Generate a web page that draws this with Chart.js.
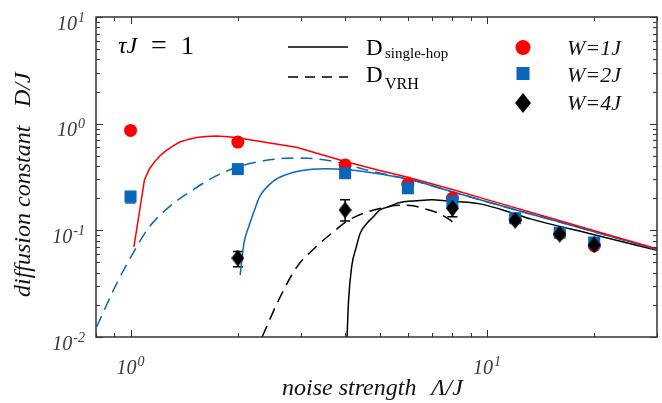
<!DOCTYPE html>
<html>
<head>
<meta charset="utf-8">
<script src="https://cdn.jsdelivr.net/npm/chart.js@4/dist/chart.umd.min.js"></script>
<style>
  html, body { margin: 0; padding: 0; background: #fff; }
  #wrap { width: 662px; height: 403px; }
</style>
</head>
<body>
<div id="wrap"><canvas id="graficoDifusao" width="662" height="403"></canvas></div>
<script>
// pontos simulados (noise strength Λ/J)
const noiseW12 = [1, 2, 4, 6, 8, 12, 16, 20];
const diffW1 = [0.865, 0.672, 0.41, 0.272, 0.2, 0.127, 0.093, 0.072];
const diffW2 = [0.207, 0.375, 0.343, 0.248, 0.186, 0.13, 0.095, 0.077];
const errLowW2 = [0.18, null, null, null, null, null, null, null];
const errHighW2 = [0.231, null, null, null, null, null, null, null];
const noiseW4 = [2, 4, 8, 12, 16, 20];
const diffW4 = [0.055, 0.155, 0.161, 0.124, 0.092, 0.073];
const errLowW4 = [0.0455, 0.122, 0.134, null, null, null];
const errHighW4 = [0.0633, 0.193, 0.19, null, null, null];

// curvas teóricas
const hopW1x = [1.022, 1.094, 1.13, 1.17, 1.21, 1.25, 1.31, 1.374, 1.45, 1.53, 1.63, 1.74, 1.88, 2.02, 2.2, 2.46, 2.92, 4, 5, 6, 8, 10, 15, 20, 30];
const hopW1y = [0.07, 0.297, 0.378, 0.442, 0.5, 0.549, 0.613, 0.673, 0.712, 0.743, 0.758, 0.766, 0.755, 0.733, 0.7, 0.659, 0.6, 0.441, 0.364, 0.314, 0.241, 0.194, 0.131, 0.099, 0.067];
const hopW2x = [2.03, 2.08, 2.15, 2.22, 2.3, 2.51, 2.75, 3.0, 3.5, 4.0, 4.5, 5.5, 6.23, 7.39, 10, 15, 20, 30];
const hopW2y = [0.038, 0.075, 0.11, 0.15, 0.205, 0.287, 0.335, 0.362, 0.377, 0.372, 0.356, 0.32, 0.293, 0.248, 0.185, 0.127, 0.097, 0.066];
const vrhW2x = [0.803, 0.914, 1.028, 1.121, 1.303, 1.498, 1.722, 2.02, 2.456, 2.92, 3.26, 3.87, 4.5, 5.5, 6.23, 7.39, 10, 15, 20, 30];
const vrhW2y = [0.0124, 0.0317, 0.0653, 0.1045, 0.173, 0.24, 0.319, 0.397, 0.458, 0.476, 0.47, 0.43, 0.375, 0.322, 0.293, 0.248, 0.185, 0.127, 0.097, 0.066];
const hopW4x = [4.05, 4.09, 4.17, 4.3, 4.41, 4.6, 4.8, 5.0, 5.35, 5.6, 6.47, 7.0, 7.7, 9.57, 11.8, 13.25, 20, 30];
const hopW4y = [0.01, 0.022, 0.045, 0.07, 0.094, 0.116, 0.134, 0.155, 0.168, 0.18, 0.19, 0.193, 0.189, 0.177, 0.145, 0.128, 0.091, 0.065];
const vrhW4x = [2.34, 2.6, 2.93, 3.3, 3.71, 4.05, 4.6, 5.25, 5.6, 6.2, 6.62, 7.3, 7.87, 8.0];
const vrhW4y = [0.01, 0.022, 0.0455, 0.069, 0.097, 0.122, 0.148, 0.166, 0.172, 0.17, 0.161, 0.145, 0.125, 0.12];

const xTicks = [1, 10];
const yTicks = [0.01, 0.1, 1, 10];

const VERMELHO = '#ff0000';
const AZUL = '#0a66bb';
const PRETO = '#000000';
const SERIF = '"Liberation Serif", "DejaVu Serif", serif';

function pares(xs, ys) {
    return xs.map(function (x, i) { return { x: x, y: ys[i] }; });
}

function losango(w, h, cor) {
    const c = document.createElement('canvas');
    c.width = w; c.height = h;
    const g = c.getContext('2d');
    g.fillStyle = cor;
    g.beginPath();
    g.moveTo(w / 2, 0); g.lineTo(w, h / 2); g.lineTo(w / 2, h); g.lineTo(0, h / 2);
    g.closePath();
    g.fill();
    return c;
}

function curva(xs, ys, cor, tracejado, reta) {
    const ds = {
        data: pares(xs, ys),
        showLine: true,
        borderColor: cor,
        borderWidth: 1.5,
        borderDash: tracejado ? [12, 7] : [],
        pointRadius: 0,
        order: 10
    };
    if (reta) ds.tension = 0;
    else ds.cubicInterpolationMode = 'monotone';
    return ds;
}

// escreve 10^n
function potencia(ctx, exp, x, y, alinh) {
    ctx.font = 'italic 20px ' + SERIF;
    const wb = ctx.measureText('10').width;
    ctx.font = 'italic 14px ' + SERIF;
    const we = ctx.measureText(exp).width;
    let x0 = alinh === 'right' ? x - wb - we - 1 : x - (wb + we + 1) / 2;
    ctx.textAlign = 'left';
    ctx.textBaseline = 'alphabetic';
    ctx.font = 'italic 20px ' + SERIF;
    ctx.fillText('10', x0, y);
    ctx.font = 'italic 14px ' + SERIF;
    ctx.fillText(exp, x0 + wb + 1, y - 8);
}

function menores(min, max) {
    const v = [];
    for (let d = -3; d <= 2; d++) {
        for (let k = 2; k <= 9; k++) {
            const t = k * Math.pow(10, d);
            if (t >= min * 0.999 && t <= max * 1.001) v.push(t);
        }
    }
    return v;
}

const moldura = {
    id: 'moldura',
    beforeDatasetsDraw(chart) {
        const ctx = chart.ctx, sx = chart.scales.x, sy = chart.scales.y;
        const barras = [
            { xs: noiseW12, lo: errLowW2, hi: errHighW2, cor: AZUL },
            { xs: noiseW4, lo: errLowW4, hi: errHighW4, cor: PRETO }
        ];
        ctx.save();
        ctx.lineWidth = 1.5;
        barras.forEach(function (b) {
            ctx.strokeStyle = b.cor;
            b.xs.forEach(function (x, i) {
                if (b.lo[i] == null) return;
                const px = sx.getPixelForValue(x);
                const y1 = sy.getPixelForValue(b.lo[i]);
                const y2 = sy.getPixelForValue(b.hi[i]);
                ctx.beginPath();
                ctx.moveTo(px, y1); ctx.lineTo(px, y2);
                ctx.moveTo(px - 5, y1); ctx.lineTo(px + 5, y1);
                ctx.moveTo(px - 5, y2); ctx.lineTo(px + 5, y2);
                ctx.stroke();
            });
        });
        ctx.restore();
    },
    afterDatasetsDraw(chart) {
        const ctx = chart.ctx, a = chart.chartArea;
        const sx = chart.scales.x, sy = chart.scales.y;
        ctx.save();
        // moldura e ticks para dentro
        ctx.strokeStyle = '#333';
        ctx.lineWidth = 1.5;
        ctx.strokeRect(a.left, a.top, a.right - a.left, a.bottom - a.top);
        ctx.lineWidth = 1;
        ctx.beginPath();
        xTicks.concat(menores(sx.min, sx.max)).forEach(function (t) {
            const p = Math.round(sx.getPixelForValue(t)) + 0.5;
            const L = xTicks.indexOf(t) >= 0 ? 7 : 4;
            ctx.moveTo(p, a.bottom); ctx.lineTo(p, a.bottom - L);
            ctx.moveTo(p, a.top); ctx.lineTo(p, a.top + L);
        });
        yTicks.concat(menores(sy.min, sy.max)).forEach(function (t) {
            const p = Math.round(sy.getPixelForValue(t)) + 0.5;
            const L = yTicks.indexOf(t) >= 0 ? 7 : 4;
            ctx.moveTo(a.left, p); ctx.lineTo(a.left + L, p);
            ctx.moveTo(a.right, p); ctx.lineTo(a.right - L, p);
        });
        ctx.stroke();

        // rótulos dos eixos
        ctx.fillStyle = '#3a3a3a';
        xTicks.forEach(function (t) {
            potencia(ctx, String(Math.round(Math.log10(t))), sx.getPixelForValue(t), 374, 'center');
        });
        yTicks.forEach(function (t) {
            potencia(ctx, String(Math.round(Math.log10(t))), 85, sy.getPixelForValue(t) + 12.5, 'right');
        });

        ctx.fillStyle = '#111';
        ctx.font = 'italic 24px ' + SERIF;
        ctx.textAlign = 'left';
        ctx.fillText('noise strength', 282, 395);
        ctx.fillText('\u039B/J', 431, 395);
        ctx.save();
        ctx.translate(30, 297);
        ctx.rotate(-Math.PI / 2);
        ctx.fillText('diffusion constant', 0, 0);
        ctx.restore();
        ctx.save();
        ctx.translate(30, 107);
        ctx.rotate(-Math.PI / 2);
        ctx.fillText('D/J', 0, 0);
        ctx.restore();

        // legenda
        ctx.fillStyle = '#000';
        ctx.font = 'italic 24px ' + SERIF;
        ctx.fillText('\u03C4J', 118, 53);
        ctx.font = '28px ' + SERIF;
        ctx.fillText('=', 151, 54);
        ctx.font = '26px ' + SERIF;
        ctx.fillText('1', 181, 54);

        ctx.strokeStyle = '#000';
        ctx.lineWidth = 1.5;
        ctx.beginPath(); ctx.moveTo(288, 47); ctx.lineTo(348, 47); ctx.stroke();
        ctx.setLineDash([10, 7]);
        ctx.beginPath(); ctx.moveTo(288, 77); ctx.lineTo(348, 77); ctx.stroke();
        ctx.setLineDash([]);

        ctx.font = '23px ' + SERIF;
        ctx.fillText('D', 366, 55);
        ctx.fillText('D', 366, 82);
        ctx.font = '15px ' + SERIF;
        ctx.fillText('single-hop', 385, 58);
        ctx.font = '16px ' + SERIF;
        ctx.fillText('VRH', 385, 89);

        ctx.fillStyle = VERMELHO;
        ctx.beginPath(); ctx.arc(523, 47.5, 7.5, 0, 2 * Math.PI); ctx.fill();
        ctx.fillStyle = AZUL;
        ctx.fillRect(516.5, 67, 13, 13);
        ctx.drawImage(losango(16, 20, PRETO), 515, 93);

        ctx.fillStyle = '#111';
        ctx.font = 'italic 22px ' + SERIF;
        ctx.fillText('W=1J', 567, 55);
        ctx.fillText('W=2J', 567, 82);
        ctx.fillText('W=4J', 567, 110);
        ctx.restore();
    }
};

new Chart(document.getElementById('graficoDifusao').getContext('2d'), {
    type: 'scatter',
    data: {
        datasets: [
            curva(hopW1x, hopW1y, VERMELHO, false, true),
            curva(vrhW2x, vrhW2y, AZUL, true, false),
            curva(hopW2x, hopW2y, AZUL, false, false),
            curva(vrhW4x, vrhW4y, PRETO, true, false),
            curva(hopW4x, hopW4y, PRETO, false, false),
            {
                data: pares(noiseW12, diffW1),
                backgroundColor: VERMELHO,
                borderWidth: 0,
                pointRadius: 6.5,
                pointStyle: 'circle',
                order: 3
            },
            {
                data: pares(noiseW12, diffW2),
                backgroundColor: AZUL,
                borderWidth: 0,
                pointRadius: 8.5,
                pointStyle: 'rect',
                order: 2
            },
            {
                data: pares(noiseW4, diffW4),
                backgroundColor: PRETO,
                borderWidth: 0,
                pointRadius: 8,
                pointStyle: losango(13, 17, PRETO),
                order: 1
            }
        ]
    },
    options: {
        responsive: false,
        animation: false,
        layout: { autoPadding: false, padding: { left: 96, top: 17, right: 5, bottom: 66 } },
        plugins: {
            legend: { display: false },
            tooltip: { enabled: false }
        },
        scales: {
            x: {
                type: 'logarithmic',
                display: false,
                min: 0.8,
                max: 30
            },
            y: {
                type: 'logarithmic',
                display: false,
                min: 0.01,
                max: 10
            }
        }
    },
    plugins: [moldura]
});
</script>
</body>
</html>
